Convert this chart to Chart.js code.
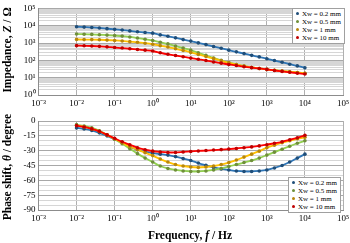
<!DOCTYPE html>
<html>
<head>
<meta charset="utf-8">
<script src="https://cdn.jsdelivr.net/npm/chart.js@4/dist/chart.umd.min.js"></script>
<style>
  body { margin: 0; background: #fff; }
  #wrap { position: relative; width: 350px; height: 243px; }
  .box { position: absolute; left: 0; width: 350px; }
  .legend {
    position: absolute; background: #fff; border: 1px solid #a0a0a0;
    font-family: "Liberation Serif", "Times New Roman", serif; font-size: 7px;
    line-height: 8px; padding: 1px 3px 1px 3px; color: #000; white-space: nowrap;
  }
  .legend span.dot { display: inline-block; width: 3px; height: 3px; border-radius: 2px; margin-right: 3px; vertical-align: 1px; }
</style>
</head>
<body>
<div id="wrap">
  <div class="box" style="top:0;height:112px"><canvas id="zChart" width="350" height="112"></canvas></div>
  <div class="box" style="top:112px;height:131px"><canvas id="pChart" width="350" height="131"></canvas></div>
  <div class="legend" id="zLegend" style="left:292px;top:8px"></div>
  <div class="legend" id="pLegend" style="left:288px;top:177px"></div>
</div>
<script>
// frequency points, Hz
let freq = [0.01, 0.0158, 0.0251, 0.0398, 0.0631, 0.1, 0.158, 0.251, 0.398, 0.631,
    1, 1.58, 2.51, 3.98, 6.31, 10, 15.8, 25.1, 39.8, 63.1,
    100, 158, 251, 398, 631, 1000, 1580, 2510, 3980, 6310, 10000];

let labels = ["Xw = 0.2 mm", "Xw = 0.5 mm", "Xw = 1 mm", "Xw = 10 mm"];
let lineColors = ["#2e75b6", "#92d050", "#ffc000", "#ff0000"];
let markColors = ["#1f4e79", "#6f8f3a", "#b8860b", "#c00000"];

// impedance |Z| in ohm
let z02 = [8710, 8320, 7940, 7410, 6760, 6170, 5620, 5010, 4470, 4070,
    3720, 2950, 2450, 2000, 1580, 1290, 1020, 813, 631, 501,
    389, 309, 245, 195, 158, 123, 98, 78, 60, 48, 37];
let z05 = [3310, 3240, 3160, 3020, 2880, 2690, 2510, 2240, 1950, 1660,
    1410, 1120, 891, 676, 513, 389, 275, 195, 138, 100,
    74, 58, 47, 39, 34, 30, 27, 24.5, 22, 20, 18];
let z1 = [1620, 1580, 1580, 1550, 1480, 1410, 1320, 1200, 1100, 977,
    851, 708, 589, 468, 372, 288, 219, 166, 126, 95,
    72, 58, 47, 39, 34, 30, 27, 24, 22, 20, 18];
let z10 = [708, 692, 676, 646, 603, 550, 513, 468, 427, 389,
    347, 275, 224, 191, 162, 135, 115, 98, 81, 69,
    58, 50, 43, 38, 34, 30, 26, 23, 20.4, 18.2, 16.2];

// phase shift in degree
let p02 = [-7, -8, -9.5, -12, -15, -18.5, -22, -26, -29, -31,
    -32.5, -33.5, -34.5, -36, -38, -40, -42.5, -44.8, -47, -48.5,
    -49.5, -50.5, -51, -51, -50.5, -49.5, -47.5, -45, -41.5, -37.5, -33.5];
let p05 = [-3.7, -5, -7, -10, -14, -18.5, -23, -28, -33, -37.5,
    -41.5, -45.5, -48, -49.5, -50.5, -51, -51, -50.5, -49.5, -48,
    -46, -44, -42, -40, -37.5, -34.5, -31.5, -28.5, -25.5, -22.5, -20];
let p1 = [-4.5, -6, -8, -10.5, -14, -18, -22, -26, -29, -32,
    -35, -38.5, -41.5, -44, -45.5, -46.5, -47, -46.5, -45.5, -44,
    -42, -39.5, -36.5, -33.5, -30.5, -27, -24.5, -22, -20, -18, -16.5];
let p10 = [-4.7, -6, -8, -10.4, -14, -17.5, -21, -24, -27, -29,
    -30.5, -31.3, -31.8, -31.8, -31.3, -30.8, -30.3, -29.9, -29.4, -28.9,
    -28.4, -27.8, -27, -26.2, -25.2, -24, -22.5, -21, -19, -17, -14.5];

let font = "'Liberation Serif', 'Times New Roman', serif";
let sup = { "-": "\u207b", "0": "\u2070", "1": "\u00b9", "2": "\u00b2", "3": "\u00b3", "4": "\u2074", "5": "\u2075" };

function powLabel(v) {
    let e = Math.log10(v);
    if (Math.abs(e - Math.round(e)) > 1e-6) return "";
    return "10" + String(Math.round(e)).split("").map((c) => sup[c]).join("");
}

function isPow(v) {
    let e = Math.log10(v);
    return Math.abs(e - Math.round(e)) < 1e-6;
}

function makeSets(series) {
    return series.map((s, i) => ({
        label: labels[i],
        data: freq.map((f, k) => ({ x: f, y: s[k] })),
        borderColor: lineColors[i],
        backgroundColor: markColors[i],
        pointBorderColor: markColors[i],
        pointBackgroundColor: markColors[i],
        pointRadius: 1.8,
        pointBorderWidth: 0,
        borderWidth: 1.8,
        tension: 0.3,
        order: 3 - i,
    }));
}

// rotated / horizontal axis titles with italic symbol
function drawMixed(ctx, parts, x, y, rot) {
    ctx.save();
    ctx.translate(x, y);
    ctx.rotate(rot);
    let w = 0;
    parts.forEach((p) => {
        ctx.font = (p.i ? "italic " : "") + "bold 11.5px " + font;
        p.w = ctx.measureText(p.t).width;
        w += p.w;
    });
    let cx = -w / 2;
    ctx.fillStyle = "#000";
    ctx.textBaseline = "middle";
    ctx.textAlign = "left";
    parts.forEach((p) => {
        ctx.font = (p.i ? "italic " : "") + "bold 11.5px " + font;
        ctx.fillText(p.t, cx, 0);
        cx += p.w;
    });
    ctx.restore();
}

function xScale(height) {
    return {
        type: "logarithmic",
        min: 0.001,
        max: 100000,
        afterBuildTicks: (s) => {
            s.ticks = [];
            for (let e = -3; e <= 5; e++) s.ticks.push({ value: Math.pow(10, e) });
        },
        afterFit: (s) => { s.height = height; s.paddingLeft = 0; s.paddingRight = 0; },
        grid: { color: "#b0b0b0", drawTicks: false },
        border: { color: "#8c8c8c" },
        ticks: { font: { family: font, size: 9 }, color: "#000", padding: 3, maxRotation: 0, autoSkip: false, callback: (v) => powLabel(v) },
    };
}

let zChart = new Chart(document.querySelector("#zChart"), {
    type: "line",
    data: { datasets: makeSets([z02, z05, z1, z10]) },
    options: {
        responsive: false,
        animation: false,
        layout: { padding: { top: 5, right: 7, left: 0, bottom: 0 } },
        plugins: { legend: { display: false }, tooltip: { enabled: false } },
        scales: {
            x: xScale(17),
            y: {
                type: "logarithmic",
                min: 1,
                max: 100000,
                afterBuildTicks: (s) => {
                    s.ticks = [];
                    for (let e = 0; e < 5; e++) {
                        for (let k = 1; k < 10; k++) s.ticks.push({ value: k * Math.pow(10, e) });
                    }
                    s.ticks.push({ value: 100000 });
                },
                afterFit: (s) => { s.width = 38.5; },
                grid: { color: (c) => (isPow(c.tick.value) ? "#a8a8a8" : "#d6d6d6"), drawTicks: false },
                border: { color: "#8c8c8c" },
                ticks: { font: { family: font, size: 9 }, color: "#000", padding: 3, autoSkip: false, callback: (v) => powLabel(v) },
            },
        },
    },
    plugins: [{
        id: "ztitle",
        afterDraw: (chart) => {
            drawMixed(chart.ctx, [{ t: "Impedance, " }, { t: "Z", i: true }, { t: " / \u03a9" }], 8, 50, -Math.PI / 2);
        },
    }],
});

let pChart = new Chart(document.querySelector("#pChart"), {
    type: "line",
    data: { datasets: makeSets([p02, p05, p1, p10]) },
    options: {
        responsive: false,
        animation: false,
        layout: { padding: { top: 9, right: 7, left: 0, bottom: 0 } },
        plugins: { legend: { display: false }, tooltip: { enabled: false } },
        scales: {
            x: xScale(33),
            y: {
                min: -90,
                max: 0,
                afterFit: (s) => { s.width = 38.5; },
                grid: { color: (c) => (c.tick.value % 15 === 0 ? "#a8a8a8" : "#d6d6d6"), drawTicks: false },
                border: { color: "#8c8c8c" },
                ticks: {
                    stepSize: 5, autoSkip: false,
                    font: { family: font, size: 9 }, color: "#000", padding: 3,
                    callback: (v) => (v % 15 === 0 ? String(v) : ""),
                },
            },
        },
    },
    plugins: [{
        id: "ptitle",
        afterDraw: (chart) => {
            drawMixed(chart.ctx, [{ t: "Phase shift, " }, { t: "\u03b8", i: true }, { t: " / degree" }], 8, 55, -Math.PI / 2);
            drawMixed(chart.ctx, [{ t: "Frequency, " }, { t: "f", i: true }, { t: " / Hz" }], 190, 124, 0);
        },
    }],
});

function fillLegend(id) {
    let box = document.querySelector(id);
    box.innerHTML = labels.map((l, i) =>
        `<div><span class="dot" style="background:${markColors[i]}"></span>${l}</div>`).join("");
}
fillLegend("#zLegend");
fillLegend("#pLegend");
</script>
</body>
</html>
